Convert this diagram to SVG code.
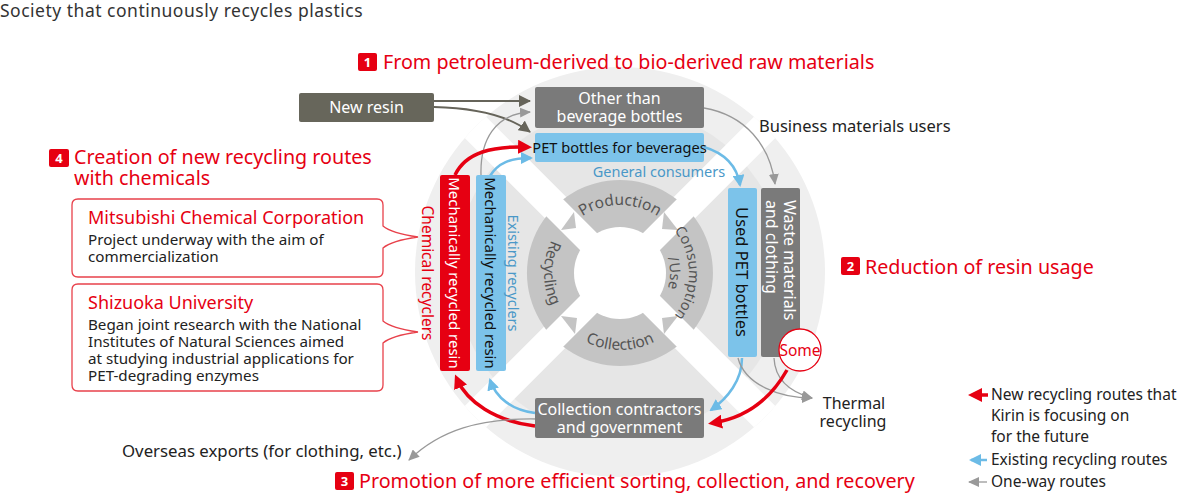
<svg xmlns="http://www.w3.org/2000/svg" width="1200" height="496" viewBox="0 0 1200 496">
<style>
text{font-family:"Noto Sans","DejaVu Sans",sans-serif}
.h{fill:#e60012;font-size:19.7px}
.badge{fill:#e60012}
.bn{fill:#fff;font-size:13px;font-weight:bold;text-anchor:middle}
.blk{fill:#222;font-size:16px}
.wt{fill:#fff;font-size:16px;text-anchor:middle}
.dk{fill:#111;font-size:14.6px;text-anchor:middle}
.ring{fill:#555;font-size:15.5px}
.gray{fill:#7a7a7a}
.blue{fill:#7cc3ea}
.red{fill:#e60012}
.c-dark{fill:none;stroke:#66645a;stroke-width:2}
.c-gray{fill:none;stroke:#999;stroke-width:1.3}
.c-blue{fill:none;stroke:#6cbbe6;stroke-width:2.5}
.c-red{fill:none;stroke:#e60012;stroke-width:3.5}
.call{fill:#fff;stroke:#e8414b;stroke-width:1.3}
.ct{fill:#e60012;font-size:18px}
.cb{fill:#222;font-size:15.2px}
.leg{fill:#222;font-size:15.5px}
</style>
<defs>
<clipPath id="circ"><circle cx="620" cy="272" r="205"/></clipPath>
<marker id="mDark" markerUnits="userSpaceOnUse" markerWidth="12" markerHeight="12" refX="11" refY="6" orient="auto"><path d="M0,0 L12,6 L0,12 z" fill="#66645a"/></marker>
<marker id="mGray" markerUnits="userSpaceOnUse" markerWidth="11" markerHeight="10" refX="10" refY="5" orient="auto"><path d="M0,0 L11,5 L0,10 z" fill="#999"/></marker>
<marker id="mBlue" markerUnits="userSpaceOnUse" markerWidth="12" markerHeight="12" refX="10" refY="6" orient="auto"><path d="M0,0 L12,6 L0,12 z" fill="#6cbbe6"/></marker>
<marker id="mRed" markerUnits="userSpaceOnUse" markerWidth="14" markerHeight="14" refX="9" refY="7" orient="auto"><path d="M0,0 L14,7 L0,14 z" fill="#e60012"/></marker>
<path id="pProd" d="M552,273 A68,68 0 0 1 688,273"/>
<path id="pColl" d="M543,273 A77,77 0 0 0 697,273"/>
<path id="pRec" d="M620,197 A76,76 0 0 0 620,349"/>
<path id="pCons" d="M620,204 A69,69 0 0 1 620,342"/>
<path id="pUse" d="M620,223 A50,50 0 0 1 620,323"/>
</defs>

<text x="0" y="17" fill="#333" style="font-size:17.5px;letter-spacing:0.5px">Society that continuously recycles plastics</text>

<!-- background -->
<g id="background">
<circle cx="620" cy="272" r="205" fill="#efefef"/>
<circle cx="620" cy="272" r="165" fill="#e6e6e6"/>
<g clip-path="url(#circ)" fill="#fff">
<rect x="360" y="257" width="520" height="30" transform="rotate(45 620 272)"/>
<rect x="360" y="257" width="520" height="30" transform="rotate(-45 620 272)"/>
</g>
</g>

<!-- inner cycle ring -->
<g id="cycle">
<path d="M620,180 A93,93 0 1 1 619.9,180 Z M620,231 A42,42 0 1 0 620.1,231 Z" fill="#c4c4c4" fill-rule="evenodd"/>
<g fill="#fff">
<rect x="510" y="261" width="220" height="24" transform="rotate(45 620 273)"/>
<rect x="510" y="261" width="220" height="24" transform="rotate(-45 620 273)"/>
</g>
<circle cx="620" cy="273" r="46" fill="#fff"/>
<g fill="#c4c4c4">
<path d="M561,230 L574,212 L576,228 Z"/>
<path d="M664,212 L678,230 L662,229 Z"/>
<path d="M678,316 L664,334 L662,318 Z"/>
<path d="M575,334 L561,316 L577,318 Z"/>
</g>
<text class="ring"><textPath href="#pProd" startOffset="50%" text-anchor="middle">Production</textPath></text>
<text class="ring"><textPath href="#pColl" startOffset="50%" text-anchor="middle">Collection</textPath></text>
<text class="ring"><textPath href="#pRec" startOffset="50%" text-anchor="middle">Recycling</textPath></text>
<text class="ring" style="font-size:14.5px"><textPath href="#pCons" startOffset="50%" text-anchor="middle">Consumption</textPath></text>
<text class="ring" style="font-size:14.5px"><textPath href="#pUse" startOffset="50%" text-anchor="middle">/Use</textPath></text>
</g>

<!-- headings -->
<g id="heading1">
<rect class="badge" x="358" y="53" width="19" height="18" rx="2"/>
<text class="bn" x="367.5" y="67">1</text>
<text class="h" x="383" y="69">From petroleum-derived to bio-derived raw materials</text>
</g>
<g id="heading2">
<rect class="badge" x="841" y="257" width="19" height="18" rx="2"/>
<text class="bn" x="850.5" y="271">2</text>
<text class="h" x="865" y="274">Reduction of resin usage</text>
</g>
<g id="heading3">
<rect class="badge" x="335" y="472" width="19" height="18" rx="2"/>
<text class="bn" x="344.5" y="486">3</text>
<text class="h" x="359" y="488">Promotion of more efficient sorting, collection, and recovery</text>
</g>
<g id="heading4">
<rect class="badge" x="49" y="149" width="20" height="18" rx="2"/>
<text class="bn" x="59" y="163">4</text>
<text class="h" x="74" y="164">Creation of new recycling routes</text>
<text class="h" x="74" y="185">with chemicals</text>
</g>

<!-- connectors -->
<g id="connectors">
<path class="c-dark" d="M434,101 L530,101" marker-end="url(#mDark)"/>
<path class="c-dark" d="M434,107 C480,108 510,117 530,132" marker-end="url(#mDark)"/>
<path class="c-gray" d="M481,175 C480,140 495,114 530,112" marker-end="url(#mGray)"/>
<path class="c-red" d="M455,175 C466,152 493,146 527,147" marker-end="url(#mRed)"/>
<path class="c-blue" d="M490,176 C498,163 510,158 531,158" marker-end="url(#mBlue)"/>
<path class="c-blue" d="M704,147 C724,153 737,166 740,185" marker-end="url(#mBlue)"/>
<path class="c-gray" d="M704,108 C745,115 770,145 775,184" marker-end="url(#mGray)"/>
<path class="c-blue" d="M742,358 C742,380 728,398 711,410" marker-end="url(#mBlue)"/>
<path class="c-gray" d="M738,358 C745,385 780,398 812,398" marker-end="url(#mGray)"/>
<path class="c-gray" d="M774,358 C775,380 790,392 812,398" marker-end="url(#mGray)"/>
<path class="c-red" d="M787,370 C770,400 745,418 713,423" marker-end="url(#mRed)"/>
<path class="c-red" d="M535,426 C495,421 467,402 457,379" marker-end="url(#mRed)"/>
<path class="c-blue" d="M535,413 C512,410 496,398 490,380" marker-end="url(#mBlue)"/>
<path class="c-gray" d="M537,419 C480,418 440,430 409,460" marker-end="url(#mGray)"/>
</g>

<!-- nodes -->
<g id="new-resin">
<rect x="299" y="93" width="135" height="29" rx="2" fill="#67665b"/>
<text class="wt" x="366.5" y="113">New resin</text>
</g>
<g id="other-than-beverage-bottles">
<rect class="gray" x="535" y="87" width="169" height="41" rx="2"/>
<text class="wt" x="619.5" y="104">Other than</text>
<text class="wt" x="619.5" y="122">beverage bottles</text>
</g>
<g id="pet-bottles">
<rect class="blue" x="535" y="133" width="169" height="29" rx="2"/>
<text class="dk" x="619.5" y="153">PET bottles for beverages</text>
</g>
<text id="general-consumers" x="659" y="177" fill="#4a98c8" style="font-size:14.5px;text-anchor:middle">General consumers</text>

<g id="chem-resin">
<rect class="red" x="440" y="175" width="30" height="196" rx="2"/>
<text x="455" y="273" transform="rotate(90 455 273)" fill="#fff" style="font-size:15px;text-anchor:middle" dominant-baseline="central">Mechanically recycled resin</text>
</g>
<text id="chemical-recyclers" x="428" y="273" transform="rotate(90 428 273)" fill="#e60012" style="font-size:15.5px;text-anchor:middle" dominant-baseline="central">Chemical recyclers</text>
<g id="mech-resin">
<rect class="blue" x="476" y="175" width="30" height="196" rx="2"/>
<text x="491" y="273" transform="rotate(90 491 273)" fill="#111" style="font-size:15px;text-anchor:middle" dominant-baseline="central">Mechanically recycled resin</text>
</g>
<text id="existing-recyclers" x="514" y="273" transform="rotate(90 514 273)" fill="#4a98c8" style="font-size:14.5px;text-anchor:middle" dominant-baseline="central">Existing recyclers</text>

<g id="used-pet-bottles">
<rect class="blue" x="728" y="188" width="29" height="169" rx="2"/>
<text x="742.5" y="272" transform="rotate(90 742.5 272)" fill="#111" style="font-size:16.5px;text-anchor:middle" dominant-baseline="central">Used PET bottles</text>
</g>
<g id="waste-materials">
<rect class="gray" x="761" y="188" width="39" height="169" rx="2"/>
<text x="790" y="200" transform="rotate(90 790 200)" fill="#fff" style="font-size:16px" dominant-baseline="central">Waste materials</text>
<text x="772" y="200" transform="rotate(90 772 200)" fill="#fff" style="font-size:16px" dominant-baseline="central">and clothing</text>
</g>
<g id="some">
<circle cx="800" cy="350" r="21" fill="#fff" stroke="#e60012" stroke-width="1.3"/>
<text x="800" y="356" fill="#e60012" style="font-size:15.5px;text-anchor:middle">Some</text>
</g>
<g id="collection-contractors">
<rect class="gray" x="535" y="398" width="169" height="40" rx="2"/>
<text class="wt" x="619.5" y="415">Collection contractors</text>
<text class="wt" x="619.5" y="433">and government</text>
</g>

<text id="business-users" class="blk" x="759" y="132" style="font-size:16.5px">Business materials users</text>
<g id="thermal-recycling">
<text class="blk" x="854" y="409" style="text-anchor:middle">Thermal</text>
<text class="blk" x="853" y="427" style="text-anchor:middle">recycling</text>
</g>
<text id="overseas" class="blk" x="122" y="457" style="font-size:16.8px">Overseas exports (for clothing, etc.)</text>

<!-- callouts -->
<g id="callout-mitsubishi">
<path class="call" d="M78,199 H377 Q383,199 383,205 V226 C390,232 404,235 418,237 C404,239 390,242 383,248 V271 Q383,277 377,277 H78 Q72,277 72,271 V205 Q72,199 78,199 Z"/>
<text class="ct" x="88" y="224">Mitsubishi Chemical Corporation</text>
<text class="cb" x="88" y="245">Project underway with the aim of</text>
<text class="cb" x="88" y="262">commercialization</text>
</g>
<g id="callout-shizuoka">
<path class="call" d="M78,284 H377 Q383,284 383,290 V321 C390,327 404,330 418,332 C404,334 390,337 383,343 V385 Q383,391 377,391 H78 Q72,391 72,385 V290 Q72,284 78,284 Z"/>
<text class="ct" x="88" y="309">Shizuoka University</text>
<text class="cb" x="88" y="330">Began joint research with the National</text>
<text class="cb" x="88" y="347">Institutes of Natural Sciences aimed</text>
<text class="cb" x="88" y="364">at studying industrial applications for</text>
<text class="cb" x="88" y="381">PET-degrading enzymes</text>
</g>

<!-- legend -->
<g id="legend">
<path class="c-red" d="M988,395 H973" marker-end="url(#mRed)"/>
<text class="leg" x="991" y="400">New recycling routes that</text>
<text class="leg" x="991" y="421">Kirin is focusing on</text>
<text class="leg" x="991" y="442">for the future</text>
<path class="c-blue" d="M987,460 H971" marker-end="url(#mBlue)"/>
<text class="leg" x="991" y="465">Existing recycling routes</text>
<path class="c-gray" d="M987,482 H969" stroke-width="2" marker-end="url(#mGray)"/>
<text class="leg" x="991" y="487">One-way routes</text>
</g>
</svg>
